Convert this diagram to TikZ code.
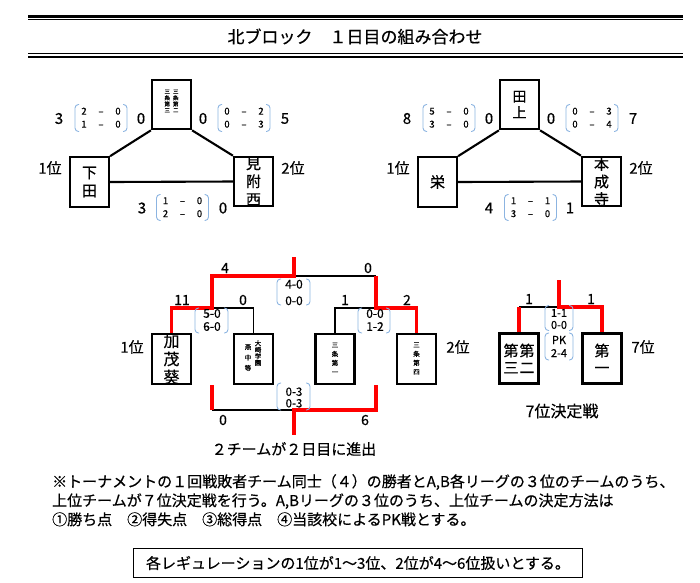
\documentclass[tikz,border=0pt]{standalone}
\usepackage{fontspec}
\usepackage{array}
\setmainfont{Noto Sans CJK JP}[FakeBold=0.5]
\definecolor{bracketblue}{RGB}{140,180,225}
\tikzset{
  box/.style={draw, line width=2.2pt, inner sep=0pt, align=center, minimum width=39pt, minimum height=49.5pt},
  tline/.style={line width=2.1pt},
  redl/.style={draw=red, line width=3.4pt},
  blkl/.style={line width=1.4pt},
  brk/.style={draw=bracketblue, line width=0.9pt, rounded corners=3.5pt},
  lab/.style={inner sep=0pt, font=\fontsize{15}{17}\selectfont},
  tnum/.style={inner sep=0pt, font=\fontsize{14}{16}\selectfont},
  sc/.style={inner sep=0pt, font=\fontsize{9.5}{13}\selectfont, align=center},
  tsc/.style={inner sep=0pt, align=center},
  tiny/.style={inner sep=0pt, align=center},
}
\newcommand{\brpair}[4]{%
  \draw[brk] ({#1-#3+4},{#2-#4}) -- ({#1-#3},{#2-#4}) -- ({#1-#3},{#2+#4}) -- ({#1-#3+4},{#2+#4});
  \draw[brk] ({#1+#3-4},{#2-#4}) -- ({#1+#3},{#2-#4}) -- ({#1+#3},{#2+#4}) -- ({#1+#3-4},{#2+#4});
}
\newcommand{\tsco}[6]{\begin{tabular}{@{}w{c}{5pt}@{\hspace{12pt}}w{c}{5pt}@{\hspace{12pt}}w{c}{5pt}@{}}#1&#2&#3\\#4&#5&#6\end{tabular}}
\begin{document}
\begin{tikzpicture}[x=1pt,y=-1pt]
\useasboundingbox (0,0) rectangle (700,582);
% title
\draw[line width=2.2pt] (28,16.5) coordinate (tl1) -- (683,16.5) coordinate (tr1);
\draw[line width=0.9pt] (28,19.8) coordinate (tl2) -- (683,19.8) coordinate (tr2);
\draw[line width=0.9pt] (28,53.8) coordinate (bl1) -- (683,53.8) coordinate (br1);
\draw[line width=2.2pt] (28,57) coordinate (bl2) -- (683,57) coordinate (br2);
\node[inner sep=0pt, font=\fontsize{17}{20}\selectfont] (title) at (355,36.5) {北ブロック　１日目の組み合わせ};

% ---------- left triangle ----------
\node[box] (aT) at (171.5,104.5) {};
\node[tiny, font=\fontsize{5.5}{6.2}\selectfont] (aTt) at (171.5,101) {三\hspace{3pt}三\\条\hspace{3pt}条\\第\hspace{3pt}第\\三\hspace{3pt}二};
\node[box, font=\fontsize{15}{18}\selectfont] (aL) at (89.5,182) {下\\田};
\node[box, font=\fontsize{15}{18}\selectfont] (aR) at (253.5,181.5) {見\\附\\西};
\draw[tline] (aT.south west) -- (aL.north east);
\draw[tline] (aT.south east) -- (aR.north west);
\draw[tline] (aL.east) -- (aR.west);
\node[lab] (aL1) at (50,168) {1位};
\node[lab] (aR2) at (293,168) {2位};
\node[lab] (as1) at (59,118.5) {3};
\node[sc] (as1s) at (101,118.5) {\tsco{2}{–}{0}{1}{–}{0}};
\brpair{101}{118}{26}{13.5}
\node[lab] (as1r) at (141,118.5) {0};
\node[lab] (as2) at (203,118.5) {0};
\node[sc] (as2s) at (244,118.5) {\tsco{0}{–}{2}{0}{–}{3}};
\brpair{244}{118}{26}{13.5}
\node[lab] (as2r) at (285,118.5) {5};
\node[lab] (as3) at (142,208) {3};
\node[sc] (as3s) at (182.5,208) {\tsco{1}{–}{0}{2}{–}{0}};
\brpair{182.5}{207.5}{26}{13}
\node[lab] (as3r) at (223,208) {0};

% ---------- right triangle ----------
\node[box, font=\fontsize{14}{16}\selectfont] (bT) at (519.5,104.5) {田\\上};
\node[box, font=\fontsize{15}{18}\selectfont] (bL) at (437.5,182) {栄};
\node[box, font=\fontsize{15}{17.5}\selectfont] (bR) at (601.5,181.5) {本\\成\\寺};
\draw[tline] (bT.south west) -- (bL.north east);
\draw[tline] (bT.south east) -- (bR.north west);
\draw[tline] (bL.east) -- (bR.west);
\node[lab] (bL1) at (398,168) {1位};
\node[lab] (bR2) at (641,168) {2位};
\node[lab] (bs1) at (407,118.5) {8};
\node[sc] (bs1s) at (449,118.5) {\tsco{5}{–}{0}{3}{–}{0}};
\brpair{449}{118}{26}{13.5}
\node[lab] (bs1r) at (489,118.5) {0};
\node[lab] (bs2) at (551,118.5) {0};
\node[sc] (bs2s) at (592,118.5) {\tsco{0}{–}{3}{0}{–}{4}};
\brpair{592}{118}{26}{13.5}
\node[lab] (bs2r) at (633,118.5) {7};
\node[lab] (bs3) at (489,208) {4};
\node[sc] (bs3s) at (530.5,208) {\tsco{1}{–}{1}{3}{–}{0}};
\brpair{530.5}{207.5}{26}{13}
\node[lab] (bs3r) at (570,208) {1};

% ---------- tournament ----------
\node[box, minimum height=50pt, font=\fontsize{16}{18}\selectfont] (t1) at (171.5,359) {加\\茂\\葵};
\node[box, minimum height=50pt] (t2) at (253.5,359) {};
\node[tiny, font=\fontsize{6.5}{6.5}\selectfont] (t2a) at (258,353) {大\\崎\\学\\園};
\node[tiny, font=\fontsize{6.5}{10.5}\selectfont] (t2b) at (248,357.5) {燕\\中\\等};
\node[box, minimum height=50pt] (t3) at (335,359) {};
\node[tiny, font=\fontsize{6.5}{9}\selectfont] (t3a) at (335,358.5) {三\\条\\第\\一};
\node[box, minimum height=50pt] (t4) at (416.5,359) {};
\node[tiny, font=\fontsize{6.5}{9}\selectfont] (t4a) at (416.5,358.5) {三\\条\\第\\四};
\coordinate (m1) at (212,308);
\coordinate (m2) at (376,308);
\coordinate (fl) at (212,276);
\coordinate (fc) at (294,276);
\coordinate (fr) at (376,276);
\coordinate (ft) at (294,257);
\coordinate (ll) at (212,385);
\coordinate (llb) at (212,410);
\coordinate (lr) at (376,385);
\coordinate (lrb) at (376,410);
\coordinate (lc) at (294,410);
\coordinate (lcb) at (294,435);
\draw[blkl] (m1) -| (t2.north);
\draw[blkl] (m2) -| (t3.north);
\draw[blkl] (fc) -- (fr);
\draw[blkl] (llb) -- (lc);
\draw[redl] (t1.north) |- (m1) -- (fl) -- (fc) -- (ft);
\draw[redl] (t4.north) |- (m2) -- (fr);
\draw[redl] (ll) -- (llb);
\draw[redl] (lr) -- (lrb) -- (lc) -- (lcb);
\node[tnum] (n11) at (182,300) {11};
\node[tnum] (n0a) at (243,300) {0};
\node[tnum] (n1) at (345,300) {1};
\node[tnum] (n2) at (407,300) {2};
\node[tnum] (n4) at (225,268) {4};
\node[tnum] (n0b) at (368,268) {0};
\node[tnum] (n0c) at (223,420) {0};
\node[tnum] (n6) at (365,420) {6};
\node[tsc, font=\fontsize{12}{13}\selectfont] (sm1) at (212,320) {5-0\\6-0};
\brpair{211.5}{320.5}{16.5}{12.5}
\node[tsc, font=\fontsize{12}{16.5}\selectfont] (smf) at (294,292.5) {4-0\\0-0};
\brpair{293.5}{292}{16.5}{13}
\node[tsc, font=\fontsize{12}{13}\selectfont] (sm2) at (375,320) {0-0\\1-2};
\brpair{374}{320.5}{16}{12.5}
\node[tsc, font=\fontsize{11.5}{11.5}\selectfont] (sml) at (294,397.5) {0-3\\0-3};
\brpair{293.5}{396.5}{16.5}{13.5}
\node[lab] (t1l) at (132,347) {1位};
\node[lab] (t4l) at (458,347) {2位};
\node[inner sep=0pt, font=\fontsize{15}{17}\selectfont] (adv) at (294,449) {２チームが２日目に進出};

% ---------- 7th place ----------
\node[box, minimum height=50pt, font=\fontsize{15}{17}\selectfont] (sL) at (519,358.5) {第\hspace{1pt}第\\三\hspace{1pt}二};
\node[box, minimum height=50pt, font=\fontsize{15}{17}\selectfont] (sR) at (602,358.5) {第\\一};
\coordinate (sj) at (559,307);
\coordinate (sjt) at (559,280);
\draw[blkl] (sL.north |- sj) -- (sj);
\draw[redl] (sL.north) -- (sL.north |- sj);
\draw[redl] (sjt) -- (sj) -| (sR.north);
\node[tnum] (sn1) at (529,299) {1};
\node[tnum] (sn2) at (591,299) {1};
\node[tsc, font=\fontsize{11}{12}\selectfont] (ss1) at (559,319) {1-1\\0-0};
\brpair{559}{318}{14}{12.5}
\node[tsc, font=\fontsize{11}{13}\selectfont] (ss2) at (559,346.5) {PK\\2-4};
\brpair{559}{346.5}{14}{13.5}
\node[lab] (s7) at (643,347) {7位};
\node[inner sep=0pt, font=\fontsize{16}{18}\selectfont] (s7t) at (562,411) {7位決定戦};

% ---------- notes ----------
\node[anchor=north west, inner sep=0pt, align=left, font=\fontsize{15}{19}\selectfont] (note) at (52,474) {※トーナメントの１回戦敗者チーム同士（４）の勝者とA,B各リーグの３位のチームのうち、\\上位チームが７位決定戦を行う。A,Bリーグの３位のうち、上位チームの決定方法は\\①勝ち点　②得失点　③総得点　④当該校によるPK戦とする。};
\node[draw, line width=1.5pt, minimum width=449pt, minimum height=29pt, inner sep=0pt, font=\fontsize{15}{17}\selectfont] (rule) at (358,563) {各レギュレーションの1位が1～3位、2位が4～6位扱いとする。};
\end{tikzpicture}
\end{document}
